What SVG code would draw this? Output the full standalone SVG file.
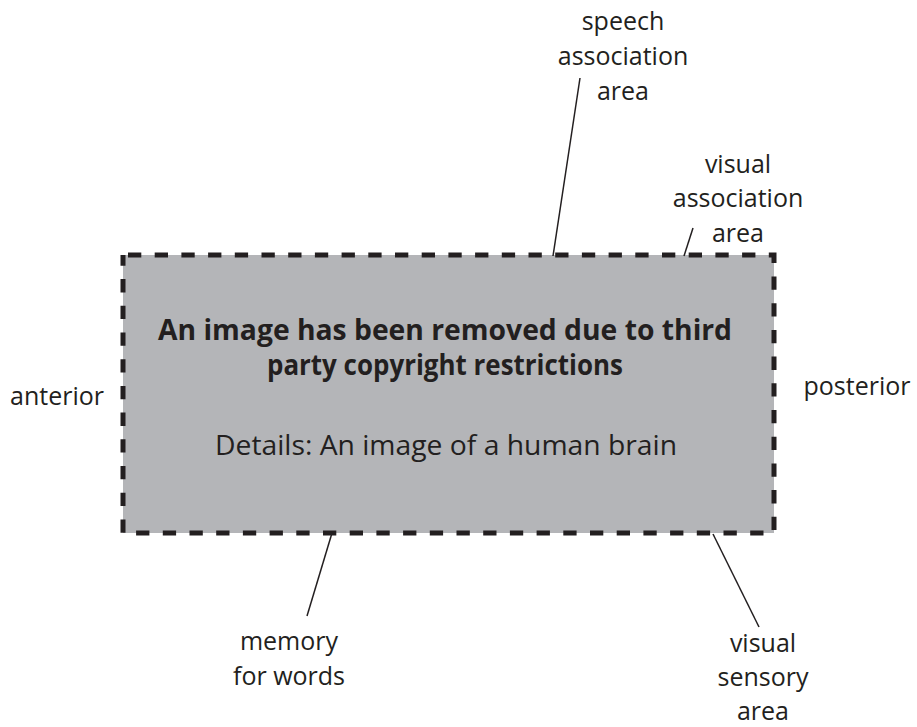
<svg xmlns="http://www.w3.org/2000/svg" width="917" height="727" viewBox="0 0 917 727">
<style>
.lbl{font-family:"Open Sans","Noto Sans","Liberation Sans",sans-serif;font-size:25px;fill:#231f20;text-anchor:middle}
.bold{font-family:"Open Sans","Noto Sans","Liberation Sans",sans-serif;font-size:28px;font-weight:bold;fill:#231f20;text-anchor:middle}
.reg{font-family:"Open Sans","Noto Sans","Liberation Sans",sans-serif;font-size:28px;fill:#231f20;text-anchor:middle}
.con{stroke:#231f20;stroke-width:1.5;fill:none}
</style>
<rect width="917" height="727" fill="#ffffff"/>
<g id="image-placeholder">
<rect x="123" y="255" width="651" height="278" fill="#b4b5b8" stroke="#231f20" stroke-width="5" stroke-dasharray="13.3 13.4" stroke-dashoffset="-5"/>
<text class="bold" x="445" y="340" textLength="574" lengthAdjust="spacingAndGlyphs">An image has been removed due to third</text>
<text class="bold" x="445" y="375" textLength="356" lengthAdjust="spacingAndGlyphs">party copyright restrictions</text>
<text class="reg" x="446" y="455" textLength="462" lengthAdjust="spacingAndGlyphs">Details: An image of a human brain</text>
</g>
<g id="connectors">
<line class="con" x1="580" y1="78" x2="553" y2="256"/>
<line class="con" x1="693" y1="228" x2="684" y2="256"/>
<line class="con" x1="332" y1="533" x2="307" y2="616"/>
<line class="con" x1="713" y1="534" x2="759" y2="627"/>
</g>
<g id="speech-association-area">
<text class="lbl" x="623" y="30">speech</text>
<text class="lbl" x="623" y="65">association</text>
<text class="lbl" x="623" y="100">area</text>
</g>
<g id="visual-association-area">
<text class="lbl" x="738" y="173">visual</text>
<text class="lbl" x="738" y="207">association</text>
<text class="lbl" x="738" y="242">area</text>
</g>
<g id="anterior">
<text class="lbl" x="57" y="405">anterior</text>
</g>
<g id="posterior">
<text class="lbl" x="857" y="395">posterior</text>
</g>
<g id="memory-for-words">
<text class="lbl" x="289" y="650">memory</text>
<text class="lbl" x="289" y="685">for words</text>
</g>
<g id="visual-sensory-area">
<text class="lbl" x="763" y="652">visual</text>
<text class="lbl" x="763" y="686">sensory</text>
<text class="lbl" x="763" y="720">area</text>
</g>
</svg>
